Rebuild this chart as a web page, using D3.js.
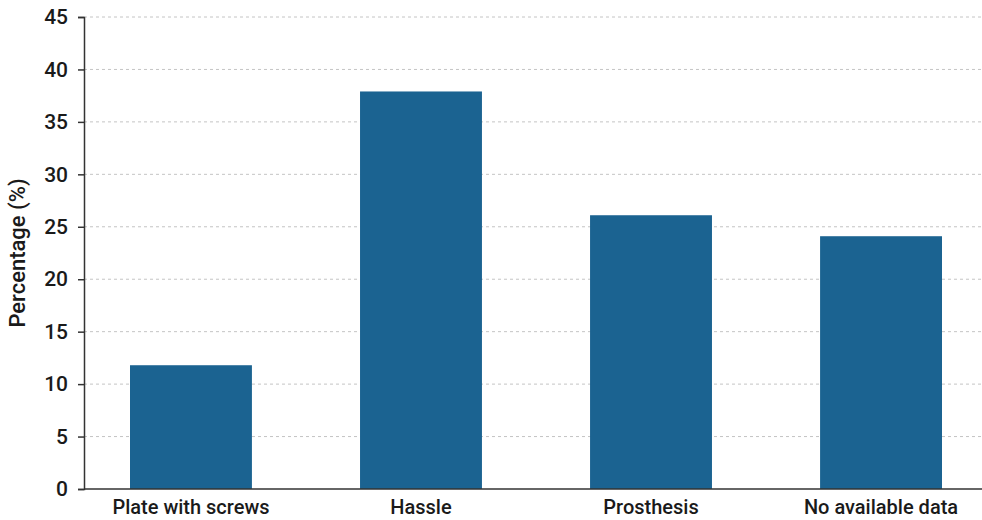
<!DOCTYPE html>
<html>
<head>
<meta charset="utf-8">
<script src="https://cdn.jsdelivr.net/npm/d3@7"></script>
<style>
  body { margin: 0; background: #fff; }
  svg { display: block; font-family: Roboto, "Noto Sans", sans-serif; font-weight: 500; }
</style>
</head>
<body>
<svg width="982" height="520"></svg>
<script>
const categories = ["Plate with screws", "Hassle", "Prosthesis", "No available data"];
const percentages = [11.8, 37.9, 26.1, 24.1];
const yTicks = [0, 5, 10, 15, 20, 25, 30, 35, 40, 45];

const BAR_COLOR = "#1b6391";

const svg = d3.select("svg");
const plotLeft = 84, plotRight = 982, plotTop = 17, plotBottom = 489;

const x = d3.scaleBand()
  .domain(categories)
  .range([plotLeft, 988])
  .paddingInner(0.47)
  .paddingOuter(0.2);

const y = d3.scaleLinear()
  .domain([0, 45])
  .range([plotBottom, plotTop]);

// grid lines
svg.append("g")
  .selectAll("line")
  .data(yTicks.filter(d => d > 0))
  .enter()
  .append("line")
  .attr("x1", plotLeft)
  .attr("x2", plotRight)
  .attr("y1", d => y(d))
  .attr("y2", d => y(d))
  .attr("stroke", "#c4c4c4")
  .attr("stroke-width", 1)
  .attr("stroke-dasharray", "3,3");

// bars
svg.append("g")
  .selectAll("rect")
  .data(categories)
  .enter()
  .append("rect")
  .attr("x", d => x(d))
  .attr("y", (d, i) => y(percentages[i]))
  .attr("width", x.bandwidth())
  .attr("height", (d, i) => y(0) - y(percentages[i]))
  .attr("fill", BAR_COLOR);

// y axis
const yAxis = svg.append("g")
  .attr("transform", `translate(${plotLeft},0)`)
  .call(d3.axisLeft(y).tickValues(yTicks).tickSize(6).tickPadding(10));
yAxis.select(".domain").attr("stroke", "#333").attr("stroke-width", 1.5);
yAxis.selectAll(".tick line").attr("stroke", "#333").attr("stroke-width", 1.5);
yAxis.selectAll(".tick text")
  .attr("fill", "#1a1a1a")
  .style("font-family", "Roboto, sans-serif")
  .style("font-weight", 500)
  .style("font-size", "21px");

// x axis line
svg.append("line")
  .attr("x1", plotLeft)
  .attr("x2", plotRight)
  .attr("y1", y(0))
  .attr("y2", y(0))
  .attr("stroke", "#333")
  .attr("stroke-width", 1.5);

// x labels
svg.append("g")
  .selectAll("text")
  .data(categories)
  .enter()
  .append("text")
  .attr("x", d => x(d) + x.bandwidth() / 2)
  .attr("y", 514)
  .attr("text-anchor", "middle")
  .attr("fill", "#1a1a1a")
  .style("font-size", "20px")
  .text(d => d);

// y label
svg.append("text")
  .attr("transform", `translate(25,${(plotTop + plotBottom) / 2}) rotate(-90)`)
  .attr("text-anchor", "middle")
  .attr("fill", "#1a1a1a")
  .style("font-size", "22px")
  .text("Percentage (%)");
</script>
</body>
</html>
